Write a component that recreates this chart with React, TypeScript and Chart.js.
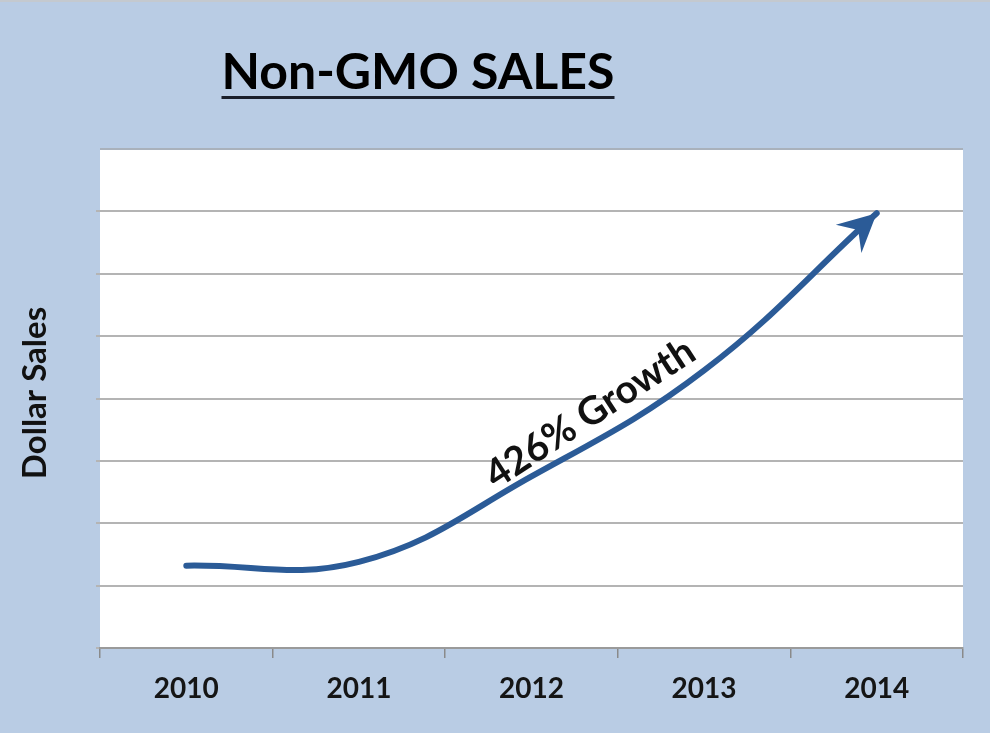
import React, { useEffect, useRef } from 'react';
import { Chart, registerables } from 'chart.js';
Chart.register(...registerables);

const years = ['2010', '2011', '2012', '2013', '2014'];
const sales = [1.32, 1.38, 2.75, 4.45, 6.97];
const yMax = 8;
const titleText = 'Non-GMO SALES';
const yTitle = 'Dollar Sales';
const growthLabel = '426% Growth';
const growthAt = { x: 2.34, y: 3.76 };

const FONT = 'Lato, "Open Sans", sans-serif';
const LINE_COLOR = '#2b5b97';

export default function App() {
  const ref = useRef<HTMLCanvasElement>(null);

  useEffect(() => {
    const deco = {
      id: 'deco',
      beforeDraw(chart: any) {
        const { ctx, chartArea: a } = chart;
        ctx.save();
        ctx.fillStyle = '#b9cce4';
        ctx.fillRect(0, 0, chart.width, chart.height);
        ctx.fillStyle = '#c4c9cf';
        ctx.fillRect(0, 0, chart.width, 2);
        ctx.fillStyle = '#ffffff';
        ctx.fillRect(a.left, a.top, a.right - a.left, a.bottom - a.top);
        ctx.strokeStyle = '#a9b1bb';
        ctx.lineWidth = 2;
        ctx.beginPath();
        ctx.moveTo(a.left, a.top);
        ctx.lineTo(a.right, a.top);
        ctx.stroke();
        ctx.restore();
      },
      afterDatasetsDraw(chart: any) {
        const { ctx } = chart;
        const meta = chart.getDatasetMeta(0);
        const pts = meta.data;
        const p = pts[pts.length - 1];
        const prev = pts[pts.length - 2];
        const cx = p.cp1x !== undefined ? p.cp1x : prev.x;
        const cy = p.cp1y !== undefined ? p.cp1y : prev.y;
        const ang = Math.atan2(p.y - cy, p.x - cx);
        const dx = Math.cos(ang), dy = Math.sin(ang);
        const px = -dy, py = dx;
        const L = 38, W = 19, N = 25;
        ctx.save();
        ctx.fillStyle = LINE_COLOR;
        ctx.beginPath();
        ctx.moveTo(p.x, p.y);
        ctx.lineTo(p.x - L * dx + W * px, p.y - L * dy + W * py);
        ctx.lineTo(p.x - N * dx, p.y - N * dy);
        ctx.lineTo(p.x - L * dx - W * px, p.y - L * dy - W * py);
        ctx.closePath();
        ctx.fill();
        ctx.restore();
      },
      afterDraw(chart: any) {
        const { ctx, scales } = chart;
        ctx.save();
        // Title
        ctx.fillStyle = '#000000';
        ctx.font = `bold 50px ${FONT}`;
        ctx.textAlign = 'center';
        ctx.textBaseline = 'alphabetic';
        const tx = 418, ty = 89;
        ctx.fillText(titleText, tx, ty);
        const tw = ctx.measureText(titleText).width;
        ctx.fillStyle = '#1a1f2b';
        ctx.fillRect(tx - tw / 2, ty + 7, tw, 3);
        // Y title
        ctx.save();
        ctx.translate(35, 393);
        ctx.rotate(-Math.PI / 2);
        ctx.fillStyle = '#111111';
        ctx.font = `bold 33px ${FONT}`;
        ctx.textAlign = 'center';
        ctx.textBaseline = 'middle';
        ctx.fillText(yTitle, 0, 0);
        ctx.restore();
        // Growth annotation
        const gx = scales.x.getPixelForValue(growthAt.x);
        const gy = scales.y.getPixelForValue(growthAt.y);
        ctx.save();
        ctx.translate(gx, gy);
        ctx.rotate(-33 * Math.PI / 180);
        ctx.fillStyle = '#111111';
        ctx.font = `bold 39px ${FONT}`;
        ctx.textAlign = 'center';
        ctx.textBaseline = 'middle';
        ctx.fillText(growthLabel, 0, 0);
        ctx.restore();
        ctx.restore();
      },
    };

    const chart = new Chart(ref.current as HTMLCanvasElement, {
      type: 'line',
      data: {
        labels: years,
        datasets: [
          {
            data: sales,
            borderColor: LINE_COLOR,
            borderWidth: 6,
            pointRadius: 0,
            tension: 0.4,
            borderCapStyle: 'round',
          },
        ],
      },
      options: {
        responsive: false,
        animation: false,
        layout: { padding: { left: 100, top: 149, right: 27, bottom: 0 } },
        plugins: { legend: { display: false }, tooltip: { enabled: false }, title: { display: false } },
        scales: {
          x: {
            offset: true,
            grid: { drawOnChartArea: false, offset: true, tickLength: 10, color: '#8a8a8a', lineWidth: 1.5 },
            border: { color: '#9a9a9a', width: 2 },
            ticks: { color: '#151515', font: { family: FONT, size: 28, weight: 'bold' }, padding: 14 },
            afterFit(scale: any) { scale.height = 85; },
          },
          y: {
            min: 0,
            max: yMax,
            ticks: { stepSize: 1, display: false },
            grid: {
              color: (c: any) => (c.tick && c.tick.value === yMax ? 'rgba(0,0,0,0)' : '#b4b4b4'),
              lineWidth: 2,
              tickLength: 4,
            },
            border: { display: false },
            afterFit(scale: any) { scale.width = 0; },
          },
        },
      },
      plugins: [deco],
    } as any);
    return () => chart.destroy();
  }, []);

  return (
    <div style={{ position: 'absolute', left: 0, top: 0, width: 990, height: 733 }}>
      <canvas ref={ref} width={990} height={733} />
    </div>
  );
}
